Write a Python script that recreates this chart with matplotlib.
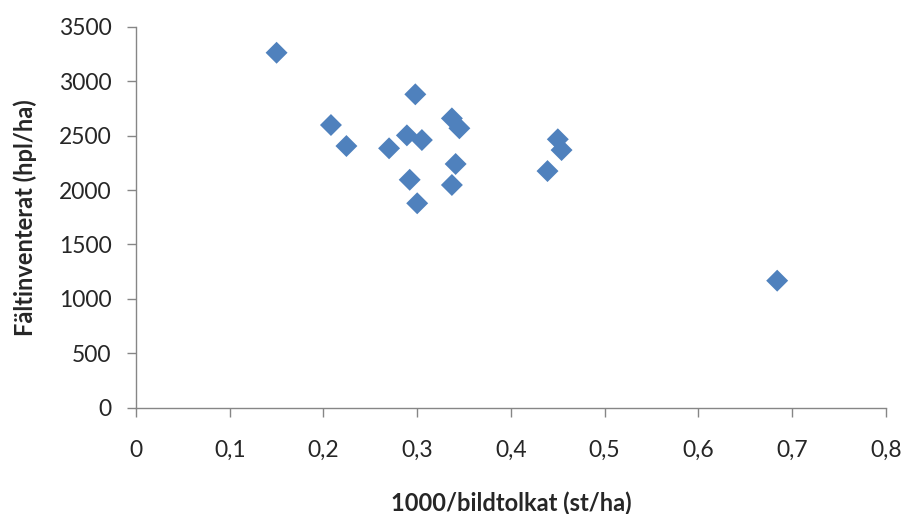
import matplotlib
matplotlib.use("Agg")
import matplotlib.pyplot as plt
from matplotlib.ticker import MultipleLocator, FuncFormatter

# 1000 / photo-interpreted stems per hectare vs field-inventoried stems per hectare
bildtolkat = [0.150, 0.298, 0.208, 0.2245, 0.270, 0.289, 0.305, 0.337, 0.345,
              0.341, 0.292, 0.337, 0.300, 0.450, 0.454, 0.439, 0.684]
faltinventerat = [3261, 2879, 2597, 2404, 2383, 2502, 2459, 2658, 2567,
                  2239, 2094, 2046, 1878, 2466, 2367, 2174, 1167]

x_label = "1000/bildtolkat (st/ha)"
y_label = "Fältinventerat (hpl/ha)"

plt.rcParams['font.family'] = ['Lato', 'DejaVu Sans']

fig = plt.figure(figsize=(9.04, 5.14), dpi=100)
ax = fig.add_axes([0.1504, 0.2068, 0.8296, 0.7412])

ax.scatter(bildtolkat, faltinventerat, marker='D', s=125, color='#4F81BD',
           edgecolors='none', zorder=3, clip_on=False)

ax.set_xlim(0, 0.8)
ax.set_ylim(0, 3500)
ax.xaxis.set_major_locator(MultipleLocator(0.1))
ax.yaxis.set_major_locator(MultipleLocator(500))
ax.xaxis.set_major_formatter(FuncFormatter(lambda v, p: f"{v:.1f}".replace('.', ',') if v != 0 else "0"))
ax.yaxis.set_major_formatter(FuncFormatter(lambda v, p: f"{int(round(v))}"))

for side in ('top', 'right'):
    ax.spines[side].set_visible(False)
for side in ('left', 'bottom'):
    ax.spines[side].set_color('#868686')
    ax.spines[side].set_linewidth(1.0)

ax.tick_params(axis='both', direction='out', length=6.5, width=1.0, color='#868686',
               labelsize=16.5, labelcolor='#262626')
ax.tick_params(axis='y', pad=11)
ax.tick_params(axis='x', pad=17)

ax.set_xlabel(x_label, fontsize=17, fontweight='bold', color='#262626', labelpad=22)
ax.set_ylabel(y_label, fontsize=17, fontweight='bold', color='#262626', labelpad=16)

fig.savefig("out.png", dpi=100, facecolor='white')
